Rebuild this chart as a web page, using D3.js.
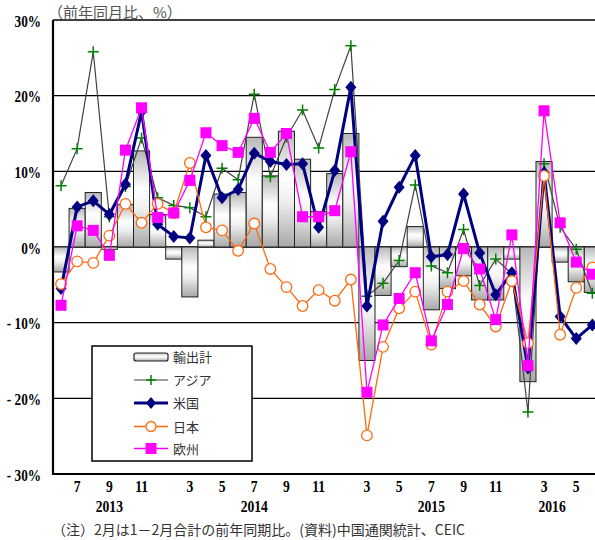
<!DOCTYPE html>
<html><head><meta charset="utf-8">
<script src="https://cdn.jsdelivr.net/npm/d3@7"></script>
<style>body{margin:0;background:#fff}</style>
</head><body><svg id="c" width="595" height="540"></svg>
<script>
// ---- data ----
const categories = ["2013-06","2013-07","2013-08","2013-09","2013-10","2013-11","2013-12",
  "2014-02","2014-03","2014-04","2014-05","2014-06","2014-07","2014-08","2014-09","2014-10","2014-11","2014-12",
  "2015-02","2015-03","2015-04","2015-05","2015-06","2015-07","2015-08","2015-09","2015-10","2015-11","2015-12",
  "2016-02","2016-03","2016-04","2016-05","2016-06"];
const monthLabels = ["","7","","9","","11","",
  "","3","","5","","7","","9","","11","",
  "","3","","5","","7","","9","","11","",
  "","3","","5",""];
const yearLabels = ["2013","2014","2015","2016"];
const yearSpans = [["2013-06","2013-12"],["2014-02","2014-12"],["2015-02","2015-12"],["2016-02","2016-05"]];
const yTicks = [-30,-20,-10,0,10,20,30];

const exportsTotal = [-3.3,5.1,7.2,-0.3,5.6,12.7,4.3,
  -1.6,-6.6,0.9,7.0,7.2,14.5,9.4,15.3,11.6,4.7,9.7,
  15.0,-15.0,-6.4,-2.6,2.7,-8.3,-5.5,-3.8,-7.0,-7.0,-1.6,
  -17.8,11.3,-2.0,-4.6,-6.0];
const asia = [8.1,13.0,25.8,4.0,8.0,14.4,6.5,
  5.5,5.2,4.0,10.4,8.9,20.2,9.3,14.5,18.1,13.1,20.8,
  26.6,-6.5,-4.8,-1.8,8.2,-2.5,-3.4,2.3,-5.1,-1.6,-3.5,
  -21.8,11.0,2.6,-0.3,-6.1];
const usa = [-5.5,5.3,6.1,4.3,8.3,17.9,3.0,
  1.4,1.2,12.1,6.5,7.6,12.4,11.3,10.9,11.0,2.6,10.1,
  21.1,-7.8,3.4,7.9,12.1,-1.3,-1.0,7.0,-0.8,-6.3,-3.4,
  -16.0,9.8,-9.2,-12.1,-10.3];
const japan = [-4.9,-1.9,-2.1,1.5,5.7,3.2,5.7,
  4.5,11.1,2.6,2.2,-0.5,3.1,-2.9,-5.3,-7.8,-5.7,-7.1,
  -4.3,-24.9,-13.2,-8.1,-5.9,-12.9,-5.9,-4.5,-7.6,-10.5,-4.5,
  -12.7,9.4,-11.6,-5.4,-2.7];
const europe = [-7.7,2.8,2.2,-1.1,12.8,18.4,3.9,
  4.5,8.8,15.1,13.4,12.5,17.0,12.5,15.0,4.0,4.0,4.8,
  12.6,-19.2,-10.3,-6.8,-3.4,-12.4,-7.6,-0.2,-2.9,-9.6,1.6,
  -15.7,18.0,3.2,-2.0,-3.6];
const seriesNames = ["輸出計","アジア","米国","日本","欧州"];

// ---- layout ----
const svg = d3.select("#c");
const plotLeft = 53, plotTop = 20, plotBottom = 474, slotW = 16.1;
const x = d3.scaleBand().domain(categories).range([plotLeft, plotLeft + categories.length*slotW]).padding(0);
const y = d3.scaleLinear().domain([-30,30]).range([plotBottom, plotTop]);
const bw = x.bandwidth();
const cx = c => x(c) + bw/2;

const defs = svg.append("defs");
const g1 = defs.append("linearGradient").attr("id","barGrad").attr("x1",0).attr("y1",0).attr("x2",0).attr("y2",1);
g1.append("stop").attr("offset","0%").attr("stop-color","#b8b8b8");
g1.append("stop").attr("offset","40%").attr("stop-color","#ffffff");
g1.append("stop").attr("offset","60%").attr("stop-color","#f0f0f0");
g1.append("stop").attr("offset","100%").attr("stop-color","#a8a8a8");

// gridlines
svg.append("g").selectAll("line").data(yTicks).join("line")
  .attr("x1", plotLeft).attr("x2", 601).attr("y1", d=>y(d)).attr("y2", d=>y(d))
  .attr("stroke","#000").attr("stroke-width", d => d===-30 ? 2.2 : 1.4);

// bars
svg.append("g").selectAll("rect").data(exportsTotal).join("rect")
  .attr("x",(d,i)=>x(categories[i]))
  .attr("width",bw)
  .attr("y",d=>y(Math.max(0,d)))
  .attr("height",d=>Math.abs(y(d)-y(0)))
  .attr("fill","url(#barGrad)").attr("stroke","#222").attr("stroke-width",1);

// lines
const lineGen = d3.line().x((d,i)=>cx(categories[i])).y(d=>y(d));
function drawLine(data, color, width){
  svg.append("path").datum(data).attr("d", lineGen).attr("fill","none")
    .attr("stroke", color).attr("stroke-width", width).attr("stroke-linejoin","miter");
}
// Asia
drawLine(asia, "#404040", 1.2);
svg.append("g").selectAll("path").data(asia).join("path")
  .attr("transform",(d,i)=>`translate(${cx(categories[i])},${y(d)})`)
  .attr("d","M-5.5,0H5.5M0,-5.5V5.5").attr("stroke","#008000").attr("stroke-width",1.5);
// US
drawLine(usa, "#000080", 3);
svg.append("g").selectAll("path").data(usa).join("path")
  .attr("transform",(d,i)=>`translate(${cx(categories[i])},${y(d)})`)
  .attr("d","M0,-6.5L5.5,0L0,6.5L-5.5,0Z").attr("fill","#000080");
// Japan
drawLine(japan, "#ff6a10", 1.3);
svg.append("g").selectAll("circle").data(japan).join("circle")
  .attr("cx",(d,i)=>cx(categories[i])).attr("cy",d=>y(d)).attr("r",5.3)
  .attr("fill","#fff").attr("stroke","#ff6a10").attr("stroke-width",1.3);
// Europe
drawLine(europe, "#ff00ff", 1.3);
svg.append("g").selectAll("rect").data(europe).join("rect")
  .attr("x",(d,i)=>cx(categories[i])-5.5).attr("y",d=>y(d)-5.5)
  .attr("width",11).attr("height",11).attr("fill","#ff00ff");

// axis line
svg.append("line").attr("x1",plotLeft).attr("x2",plotLeft).attr("y1",plotTop).attr("y2",plotBottom+1)
  .attr("stroke","#000").attr("stroke-width",2.2);

// y axis labels
const ySx = 0.78;
const yAxis = svg.append("g").attr("transform",`translate(${plotLeft},0)`)
  .call(d3.axisLeft(y).tickValues(yTicks).tickSize(0)
    .tickFormat(v => v<0 ? "- " + (-v) + "%" : v + "%"));
yAxis.select(".domain").remove();
yAxis.selectAll("text")
  .attr("x", -12/ySx).attr("dy","0.36em")
  .attr("transform",`scale(${ySx},1)`)
  .attr("font-family","'Liberation Serif', serif").attr("font-weight","bold")
  .attr("font-size",17).attr("fill","#000");

// x axis month labels
const xAxis = svg.append("g").attr("transform",`translate(0,${plotBottom})`)
  .call(d3.axisBottom(x).tickSize(0).tickFormat((d,i)=>monthLabels[i]));
xAxis.select(".domain").remove();
xAxis.selectAll("text")
  .attr("y",18).attr("dy",0)
  .attr("transform","scale(0.85,1)")
  .attr("font-family","'Liberation Serif', serif").attr("font-weight","bold")
  .attr("font-size",16).attr("fill","#000");

// year labels
svg.append("g").selectAll("text").data(yearLabels).join("text")
  .attr("transform",(d,i)=>{
    const cxm = (cx(yearSpans[i][0]) + cx(yearSpans[i][1]))/2;
    return `translate(${cxm},${plotBottom+38}) scale(0.85,1)`;
  })
  .attr("text-anchor","middle")
  .attr("font-family","'Liberation Serif', serif").attr("font-weight","bold")
  .attr("font-size",16).attr("fill","#000")
  .text(d=>d);

// title
svg.append("text").attr("x",48).attr("y",18)
  .attr("font-family","'Noto Sans CJK JP', sans-serif").attr("font-size",15).attr("fill","#555")
  .text("（前年同月比、%）");

// footer
svg.append("text").attr("x",52).attr("y",535)
  .attr("font-family","'Noto Sans CJK JP', sans-serif").attr("font-size",14).attr("fill","#333")
  .text("（注）2月は1－2月合計の前年同期比。(資料)中国通関統計、CEIC");

// legend
const lg = svg.append("g");
lg.append("rect").attr("x",92).attr("y",346).attr("width",160).attr("height",115)
  .attr("fill","#fff").attr("stroke","#000").attr("stroke-width",1.5);
const ly = [357,380,403,426.5,448.5];
const lx1 = 134, lx2 = 168, lxm = 151;
lg.append("rect").attr("x",lx1).attr("y",ly[0]-4).attr("width",lx2-lx1).attr("height",8).attr("rx",2)
  .attr("fill","url(#barGrad)").attr("stroke","#222").attr("stroke-width",1.2);
lg.append("line").attr("x1",lx1).attr("x2",lx2).attr("y1",ly[1]).attr("y2",ly[1]).attr("stroke","#404040").attr("stroke-width",1.2);
lg.append("path").attr("transform",`translate(${lxm},${ly[1]})`).attr("d","M-5,0H5M0,-5V5").attr("stroke","#008000").attr("stroke-width",1.5);
lg.append("line").attr("x1",lx1).attr("x2",lx2).attr("y1",ly[2]).attr("y2",ly[2]).attr("stroke","#000080").attr("stroke-width",3);
lg.append("path").attr("transform",`translate(${lxm},${ly[2]})`).attr("d","M0,-6L5,0L0,6L-5,0Z").attr("fill","#000080");
lg.append("line").attr("x1",lx1).attr("x2",lx2).attr("y1",ly[3]).attr("y2",ly[3]).attr("stroke","#ff6a10").attr("stroke-width",1.3);
lg.append("circle").attr("cx",lxm).attr("cy",ly[3]).attr("r",5).attr("fill","#fff").attr("stroke","#ff6a10").attr("stroke-width",1.3);
lg.append("line").attr("x1",lx1).attr("x2",lx2).attr("y1",ly[4]).attr("y2",ly[4]).attr("stroke","#ff00ff").attr("stroke-width",1.3);
lg.append("rect").attr("x",lxm-5.5).attr("y",ly[4]-5.5).attr("width",11).attr("height",11).attr("fill","#ff00ff");
lg.selectAll("text.lt").data(seriesNames).join("text").attr("class","lt")
  .attr("x",173).attr("y",(d,i)=>ly[i]+5)
  .attr("font-family","'Noto Sans CJK JP', sans-serif").attr("font-size",13).attr("fill","#333")
  .text(d=>d);
</script></body></html>
